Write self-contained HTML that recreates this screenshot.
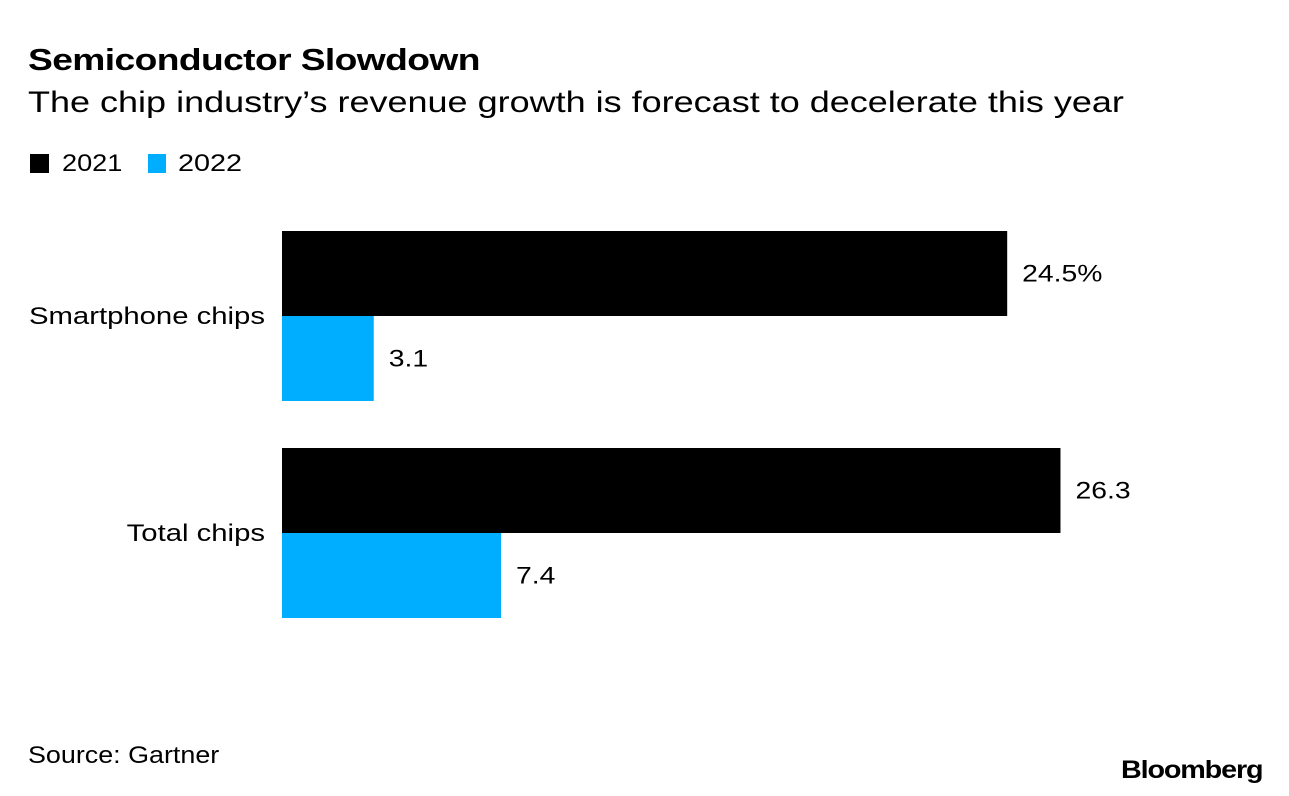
<!DOCTYPE html>
<html><head><meta charset="utf-8"><style>
html,body{margin:0;padding:0;background:#fff;}
body{width:1289px;height:796px;position:relative;font-family:"Liberation Sans",Arial,sans-serif;color:#000;overflow:hidden;}
.t{position:absolute;white-space:nowrap;transform-origin:0 0;}
</style></head><body>
<div class="t" style="left:28px;top:42px;font-size:31px;font-weight:bold;letter-spacing:-0.5px;transform:scaleX(1.2);">Semiconductor Slowdown</div>
<div class="t" style="left:28px;top:86px;font-size:30px;transform:scaleX(1.2);">The chip industry’s revenue growth is forecast to decelerate this year</div>
<div style="position:absolute;left:30px;top:154px;width:19px;height:19px;background:#000;"></div>
<div class="t" style="left:62px;top:150px;font-size:24px;transform:scaleX(1.13);">2021</div>
<div style="position:absolute;left:148px;top:154px;width:18px;height:19px;background:#00aeff;"></div>
<div class="t" style="left:178px;top:150px;font-size:24px;transform:scaleX(1.2);">2022</div>
<svg id="chart" width="1289" height="796" style="position:absolute;left:0;top:0;"></svg>
<div class="t" style="left:28px;top:742px;font-size:24px;transform:scaleX(1.12);">Source: Gartner</div>
<div class="t" style="left:1121px;top:756px;font-size:25px;font-weight:bold;letter-spacing:-1px;transform:scaleX(1.15);">Bloomberg</div>
<script>
const categories = ["Smartphone chips", "Total chips"];
const values2021 = [24.5, 26.3];
const values2022 = [3.1, 7.4];
const labels2021 = ["24.5%", "26.3"];
const labels2022 = ["3.1", "7.4"];
const svg = document.getElementById('chart');
const NS = 'http://www.w3.org/2000/svg';
const x0 = 282, pxPerUnit = 29.6;
function xScale(v){ return x0 + v * pxPerUnit; }
function groupTop(i){ return 231 + i * 217; }
const barH = 85;
function mk(tag, attrs){ const e = document.createElementNS(NS, tag); for (const k in attrs) e.setAttribute(k, attrs[k]); svg.appendChild(e); return e; }
function widen(t, f){ const l = t.getComputedTextLength(); t.setAttribute('textLength', l * f); t.setAttribute('lengthAdjust', 'spacingAndGlyphs'); }
categories.forEach((c, i) => {
  const y = groupTop(i);
  const series = [[values2021, labels2021, '#000', '2021'], [values2022, labels2022, '#00aeff', '2022']];
  series.forEach((s, j) => {
    const v = s[0][i];
    const r = mk('rect', {x: x0, y: y + j * barH, width: xScale(v) - x0, height: barH, fill: s[2]});
    
    
    const t = mk('text', {x: xScale(v) + 15, y: y + j * barH + barH / 2 + 8, 'font-size': 24, 'font-family': 'Liberation Sans, Arial, sans-serif'});
    t.textContent = s[1][i];
    
    
    widen(t, 1.18);
  });
  const lab = mk('text', {x: 28, y: y + barH + 8, 'font-size': 24, 'font-family': 'Liberation Sans, Arial, sans-serif'});
  lab.textContent = c;
  
  
  const l = lab.getComputedTextLength() * 1.22;
  lab.setAttribute('x', 265 - l);
  lab.setAttribute('textLength', l);
  lab.setAttribute('lengthAdjust', 'spacingAndGlyphs');
});
</script>
</body></html>
